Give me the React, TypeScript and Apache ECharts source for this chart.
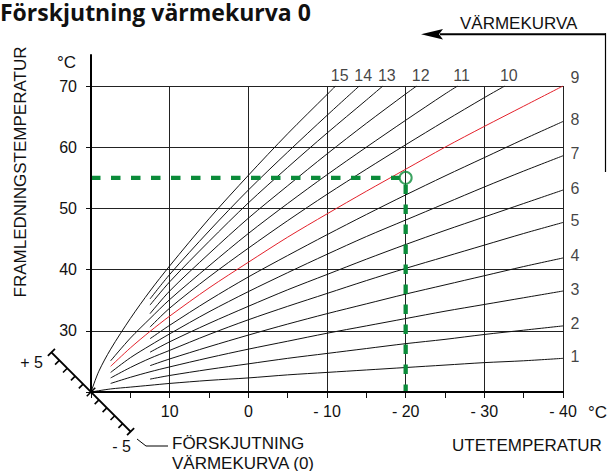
import { useEffect, useRef } from 'react';
import * as echarts from 'echarts';

// Heating curves: [outdoor temperature °C, supply temperature °C]
const curve1 = [[20, 20], [17.5, 20.5], [15, 20.8], [12.5, 21.1], [10, 21.4], [5, 21.9], [0, 22.3], [-5, 22.8], [-10, 23.2], [-15, 23.6], [-20, 24.0], [-25, 24.4], [-30, 24.8], [-35, 25.1], [-40, 25.5]];
const curve2 = [[12.5, 22.1], [10, 22.7], [5, 23.7], [0, 24.6], [-5, 25.5], [-10, 26.3], [-15, 27.1], [-20, 27.9], [-25, 28.6], [-30, 29.4], [-35, 30.1], [-40, 30.8]];
const curve3 = [[17.5, 21.4], [15, 22.4], [12.5, 23.3], [10, 24.1], [5, 25.6], [0, 27.0], [-5, 28.3], [-10, 29.6], [-15, 30.8], [-20, 32.0], [-25, 33.2], [-30, 34.3], [-35, 35.4], [-40, 36.5]];
const curve4 = [[12.5, 24.3], [10, 25.4], [5, 27.4], [0, 29.3], [-5, 31.1], [-10, 32.8], [-15, 34.4], [-20, 36.0], [-25, 37.5], [-30, 39.0], [-35, 40.5], [-40, 41.9]];
const curve5 = [[17.5, 22.3], [15, 24.0], [12.5, 25.5], [10, 26.8], [5, 29.4], [0, 31.8], [-5, 34.0], [-10, 36.1], [-15, 38.2], [-20, 40.2], [-25, 42.1], [-30, 44.0], [-35, 45.9], [-40, 47.7]];
const curve6 = [[12.5, 26.5], [10, 28.2], [5, 31.2], [0, 34.0], [-5, 36.7], [-10, 39.2], [-15, 41.7], [-20, 44.1], [-25, 46.4], [-30, 48.6], [-35, 50.8], [-40, 53.0]];
const curve7 = [[17.5, 23.2], [15, 25.6], [12.5, 27.6], [10, 29.5], [5, 33.1], [0, 36.4], [-5, 39.5], [-10, 42.5], [-15, 45.4], [-20, 48.1], [-25, 50.8], [-30, 53.5], [-35, 56.1], [-40, 58.6]];
const curve8 = [[12.5, 28.7], [10, 30.9], [5, 35.0], [0, 38.8], [-5, 42.3], [-10, 45.7], [-15, 49.0], [-20, 52.2], [-25, 55.3], [-30, 58.3], [-35, 61.3], [-40, 64.2]];
const curve9 = [[17.5, 24.2], [15, 27.2], [12.5, 29.9], [10, 32.4], [5, 37.0], [0, 41.2], [-5, 45.3], [-10, 49.1], [-15, 52.8], [-20, 56.4], [-25, 60.0], [-30, 63.4], [-35, 66.7], [-40, 70]];
const curve10 = [[12.5, 30.6], [10, 33.7], [5, 38.8], [0, 43.5], [-5, 48.0], [-10, 52.3], [-15, 56.4], [-20, 60.4], [-25, 64.3], [-30, 68.1], [-32.6, 70]];
const curve11 = [[17.5, 25.1], [15, 28.8], [12.5, 32.0], [10, 35.1], [5, 40.6], [0, 45.9], [-5, 50.8], [-10, 55.5], [-15, 60.0], [-20, 64.4], [-25, 68.7], [-26.6, 70]];
const curve12 = [[12.5, 32.8], [10, 36.5], [5, 42.6], [0, 48.4], [-5, 53.7], [-10, 58.9], [-15, 63.9], [-20, 68.7], [-21.4, 70]];
const curve13 = [[12.5, 34.2], [10, 38.0], [5, 44.6], [0, 50.9], [-5, 56.7], [-10, 62.3], [-15, 67.7], [-17.1, 70]];
const curve14 = [[12.5, 35.2], [10, 39.2], [5, 46.3], [0, 53.0], [-5, 59.2], [-10, 65.2], [-14.1, 70]];
const curve15 = [[20, 20], [19, 23.4], [17.5, 27.0], [15, 32.0], [12.5, 36.5], [10, 40.6], [5, 48.3], [0, 55.4], [-5, 62.2], [-10, 68.6], [-11.1, 70]];

const curves = [curve1, curve2, curve3, curve4, curve5, curve6, curve7, curve8, curve9, curve10, curve11, curve12, curve13, curve14, curve15];
const curveNames = ['1', '2', '3', '4', '5', '6', '7', '8', '9', '10', '11', '12', '13', '14', '15'];
const highlightedCurve = '9';

const xLabelValues = [10, 0, -10, -20, -30, -40];
const yLabelValues = [30, 40, 50, 60, 70];
const xRange = [-40, 20];
const yRange = [20, 70];
const xAxisLineEnd = -44;
const yAxisLineEnd = 75.2;

const exampleOutdoor = -20;
const exampleSupply = 55;

const GREEN = '#0b8c3a';
const RED = '#e3202a';
const INK = '#111';
const FONT = '"Liberation Sans", Arial, sans-serif';

export default function App() {
  const ref = useRef<HTMLDivElement>(null);

  useEffect(() => {
    const chart = echarts.init(ref.current!, null, { renderer: 'svg' });

    const curveSeries = curves.map((data, i) => ({
      type: 'line',
      name: curveNames[i],
      data,
      symbol: 'none',
      smooth: 0.3,
      silent: true,
      z: curveNames[i] === highlightedCurve ? 4 : 3,
      lineStyle: { color: curveNames[i] === highlightedCurve ? RED : INK, width: 1 },
    }));

    const labelData = curves.map((data, i) => {
      const last = data[data.length - 1];
      const atTop = last[0] > xRange[0];
      const isCorner = !atTop && last[1] >= yRange[1];
      return {
        value: [last[0], last[1]],
        label: atTop
          ? { position: 'top', distance: 2, offset: [4, 0] }
          : { position: 'right', distance: 7, offset: [0, isCorner ? -9 : -2] },
        name: curveNames[i],
      };
    });

    const option: any = {
      animation: false,
      backgroundColor: '#fff',
      grid: { left: 91, right: 45, top: 86, bottom: 79 },
      xAxis: {
        type: 'value',
        inverse: true,
        min: xRange[0],
        max: xRange[1],
        interval: 10,
        axisLine: { show: false },
        axisTick: { show: true, length: 6, lineStyle: { color: INK, width: 1 } },
        minorTick: { show: true, splitNumber: 2, length: 6, lineStyle: { color: INK, width: 1 } },
        axisLabel: {
          margin: 11,
          fontSize: 16,
          fontFamily: FONT,
          color: INK,
          formatter: (v: number) =>
            xLabelValues.includes(v) ? (v < 0 ? '- ' + Math.abs(v) : String(v)) : '',
        },
        splitLine: { show: true, lineStyle: { color: '#222', width: 1 } },
      },
      yAxis: {
        type: 'value',
        min: yRange[0],
        max: yRange[1],
        interval: 10,
        axisLine: { show: false, onZero: false },
        axisTick: { show: true, length: 5, lineStyle: { color: INK, width: 1 } },
        axisLabel: {
          margin: 14,
          fontSize: 16,
          fontFamily: FONT,
          color: INK,
          formatter: (v: number) => (yLabelValues.includes(v) ? String(v) : ''),
        },
        splitLine: { show: true, lineStyle: { color: '#222', width: 1 } },
      },
      series: [
        ...curveSeries,
        {
          type: 'scatter',
          data: labelData,
          symbol: 'circle',
          symbolSize: 1,
          silent: true,
          itemStyle: { color: 'rgba(0,0,0,0)' },
          label: {
            show: true,
            formatter: (p: any) => p.name,
            fontSize: 16,
            fontFamily: FONT,
            color: INK,
          },
          z: 6,
        },
        {
          type: 'line',
          data: [[xRange[1], exampleSupply], [exampleOutdoor + 0.75, exampleSupply]],
          symbol: 'none',
          silent: true,
          z: 7,
          lineStyle: { color: GREEN, width: 4.3, type: [9.5, 10.5], cap: 'butt' },
        },
        {
          type: 'line',
          data: [[exampleOutdoor, exampleSupply - 1.1], [exampleOutdoor, yRange[0]]],
          symbol: 'none',
          silent: true,
          z: 7,
          lineStyle: { color: GREEN, width: 4.3, type: [9.5, 10.5], cap: 'butt' },
        },
        {
          type: 'scatter',
          data: [[exampleOutdoor, exampleSupply]],
          symbol: 'circle',
          symbolSize: 12,
          silent: true,
          z: 8,
          itemStyle: { color: 'rgba(255,255,255,0)', borderColor: GREEN, borderWidth: 2 },
        },
        {
          type: 'line',
          data: [[xRange[1], yRange[0]], [xAxisLineEnd, yRange[0]]],
          symbol: 'none',
          clip: false,
          silent: true,
          z: 9,
          lineStyle: { color: '#000', width: 2 },
        },
        {
          type: 'line',
          data: [[xRange[1], yRange[0]], [xRange[1], yAxisLineEnd]],
          symbol: 'none',
          clip: false,
          silent: true,
          z: 9,
          lineStyle: { color: '#000', width: 2 },
        },
      ],
    };

    chart.setOption(option);

    const o = chart.convertToPixel({ gridIndex: 0 }, [xRange[1], yRange[0]]) as number[];
    const ox = o[0];
    const oy = o[1];
    const s = Math.SQRT1_2;
    const L = 56;
    const step = L / 5;
    const scaleEls: any[] = [];
    const seg = (x1: number, y1: number, x2: number, y2: number, w: number) => ({
      type: 'line',
      shape: { x1, y1, x2, y2 },
      style: { stroke: '#000', lineWidth: w },
      silent: true,
      z: 100,
    });
    scaleEls.push(seg(ox - L * s, oy - L * s, ox + L * s, oy + L * s, 2));
    for (let i = -5; i <= 5; i++) {
      const px = ox + i * step * s;
      const py = oy + i * step * s;
      if (i === 0) {
        scaleEls.push(seg(px + 6 * s, py - 6 * s, px - 6 * s, py + 6 * s, 1.6));
      } else if (Math.abs(i) === 5) {
        scaleEls.push(seg(px + 5 * s, py - 5 * s, px - 5 * s, py + 5 * s, 1.8));
      } else {
        scaleEls.push(seg(px, py, px - 6 * s, py + 6 * s, 1.6));
      }
    }

    const txt = (text: string, x: number, y: number, opts: any = {}) => ({
      type: 'text',
      x,
      y,
      silent: true,
      z: 100,
      rotation: opts.rotation || 0,
      style: {
        text,
        fontSize: opts.fontSize || 17,
        fontFamily: opts.fontFamily || FONT,
        fontWeight: opts.fontWeight || 'normal',
        fill: INK,
        align: opts.align || 'left',
        verticalAlign: 'middle',
      },
    });

    chart.setOption({
      graphic: [
        txt('Förskjutning värmekurva 0', 0, 12, { fontSize: 23, fontWeight: 'bold', fontFamily: '"Open Sans", sans-serif' }),
        txt('VÄRMEKURVA', 460, 23),
        {
          type: 'polygon',
          shape: { points: [[421, 34.3], [443, 29], [439, 34.3], [443, 39.6]] },
          style: { fill: '#000' },
          silent: true,
        },
        seg(440, 34.3, 606, 34.3, 2),
        seg(605.5, 33.3, 605.5, 172, 1.2),
        txt('°C', 57, 62),
        txt('FRAMLEDNINGSTEMPERATUR', 20, 172, { align: 'center', rotation: Math.PI / 2 }),
        txt('°C', 588, 412),
        txt('UTETEMPERATUR', 452, 445),
        txt('+ 5', 43, 362, { align: 'right', fontSize: 16 }),
        txt('- 5', 131, 446, { align: 'right', fontSize: 16 }),
        {
          type: 'polyline',
          shape: { points: [[137, 439], [146, 446], [168, 446]] },
          style: { stroke: '#000', lineWidth: 1, fill: 'none' },
          silent: true,
        },
        txt('FÖRSKJUTNING', 172, 443.5),
        txt('VÄRMEKURVA (0)', 172, 463),
        ...scaleEls,
      ],
    });

    return () => chart.dispose();
  }, []);

  return (
    <div
      ref={ref}
      style={{ position: 'fixed', left: 0, top: 0, width: 608, height: 471, background: '#fff' }}
    />
  );
}
